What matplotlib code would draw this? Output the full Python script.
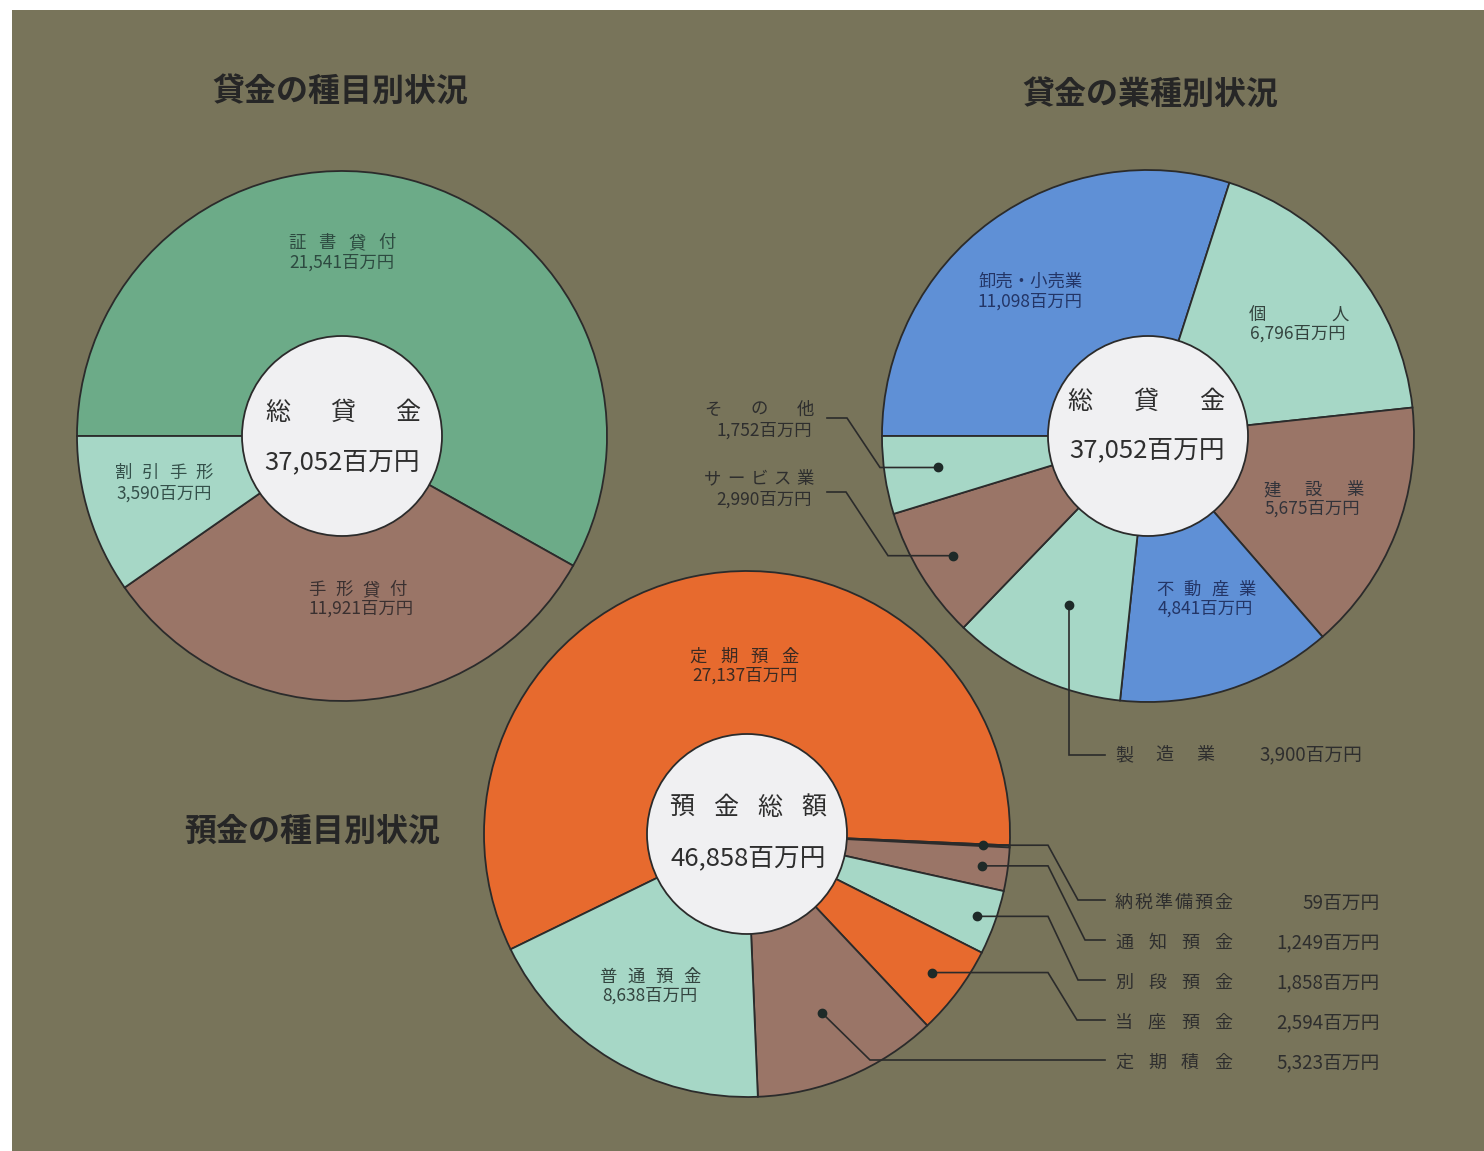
import matplotlib
matplotlib.use('Agg')
import matplotlib.pyplot as plt
import numpy as np
from matplotlib.patches import Circle, Rectangle

plt.rcParams['font.family'] = ['Noto Sans CJK JP', 'DejaVu Sans']

W, H = 1484, 1151

# ---------------- data ----------------
loan_type_labels = ['証書貸付', '手形貸付', '割引手形']
loan_type_values = [21541, 11921, 3590]

loan_ind_labels = ['卸売・小売業', '個人', '建設業', '不動産業', '製造業', 'サービス業', 'その他']
loan_ind_values = [11098, 6796, 5675, 4841, 3900, 2990, 1752]

dep_labels = ['定期預金', '納税準備預金', '通知預金', '別段預金', '当座預金', '定期積金', '普通預金']
dep_values = [27137, 59, 1249, 1858, 2594, 5323, 8638]

loan_total = 37052
dep_total = 46858

titles = ['貸金の種目別状況', '貸金の業種別状況', '預金の種目別状況']

# ---------------- style ----------------
BG = '#78745a'
GREEN = '#6cab88'
AQUA = '#a6d7c6'
BROWN = '#9a7567'
BLUE = '#5f90d6'
ORANGE = '#e76a2e'
CENTER = '#f0f0f2'
EDGE = '#2b2b2b'
TXT = '#2e2e2e'

def fmt(v):
    return f"{v:,}百万円"

def py(y):
    return H - y

fig = plt.figure(figsize=(W / 100, H / 100), dpi=100)
fig.patch.set_facecolor('white')
ax = fig.add_axes([0, 0, 1, 1])
ax.set_axis_off()

ax.add_patch(Rectangle((12, 0), W - 12, H - 10, facecolor=BG, edgecolor='none', zorder=0))

def draw_pie(values, colors, center_px, R, start):
    c = (center_px[0], py(center_px[1]))
    wedges, _ = ax.pie(values, colors=colors, startangle=start, counterclock=False,
                       center=c, radius=R, frame=True,
                       wedgeprops=dict(edgecolor=EDGE, linewidth=1.3))
    for w in wedges:
        w.set_zorder(2)
    ax.add_patch(Circle(c, 100, facecolor=CENTER, edgecolor=EDGE, linewidth=1.3, zorder=5))
    return wedges, c

def dot_pos(wedge, c, R, frac):
    mid = np.deg2rad((wedge.theta1 + wedge.theta2) / 2)
    return c[0] + frac * R * np.cos(mid), c[1] + frac * R * np.sin(mid)

def spaced(s, x0, x1, y, size, color=TXT, **kw):
    n = len(s)
    xs = [x0] if n == 1 else np.linspace(x0, x1, n)
    for ch, x in zip(s, xs):
        ax.text(x, py(y), ch, ha='center', va='center', fontsize=size, color=color, zorder=8, **kw)

def txt(s, x, y, size, color=TXT, ha='center', **kw):
    ax.text(x, py(y), s, ha=ha, va='center', fontsize=size, color=color, zorder=8, **kw)

def leader(points_px, start):
    xs = [start[0]] + [p[0] for p in points_px]
    ys = [start[1]] + [py(p[1]) for p in points_px]
    ax.plot(xs, ys, color=EDGE, lw=1.2, zorder=6, solid_joinstyle='miter')
    ax.plot(start[0], start[1], 'o', color='#1e2a28', ms=6, zorder=7)

LBL = 12.5

def title(s, x, y):
    txt(s, x, y, 23, color='#262626', fontweight='bold')

# ---------------- pie 1: loans by type ----------------
w1, c1 = draw_pie(loan_type_values, [GREEN, BROWN, AQUA], (342, 436), 265, 180)
title(titles[0], 340, 92)
spaced(loan_type_labels[0], 297, 387, 243, LBL, color='#2d4a40')
txt(fmt(loan_type_values[0]), 342, 263, LBL, color='#2d4a40')
spaced(loan_type_labels[2], 124, 204, 473, LBL, color='#34504a')
txt(fmt(loan_type_values[2]), 164, 494, LBL, color='#34504a')
spaced(loan_type_labels[1], 317, 398, 590, LBL, color='#3a3030')
txt(fmt(loan_type_values[1]), 361, 609, LBL, color='#3a3030')
spaced('総貸金', 278, 408, 413, 18)
txt(fmt(loan_total), 342, 462, 18.5)

# ---------------- pie 2: loans by industry ----------------
w2, c2 = draw_pie(loan_ind_values, [BLUE, AQUA, BROWN, BLUE, AQUA, BROWN, AQUA], (1148, 436), 266, 180)
title(titles[1], 1150, 95)
txt(loan_ind_labels[0], 1031, 282, LBL, color='#233566')
txt(fmt(loan_ind_values[0]), 1030, 302, LBL, color='#233566')
spaced(loan_ind_labels[1], 1257, 1340, 315, LBL, color='#34443f')
txt(fmt(loan_ind_values[1]), 1298, 334, LBL, color='#34443f')
spaced(loan_ind_labels[2], 1272, 1355, 490, LBL, color='#32333a')
txt(fmt(loan_ind_values[2]), 1312, 509, LBL, color='#32333a')
spaced(loan_ind_labels[3], 1165, 1247, 590, LBL, color='#233566')
txt(fmt(loan_ind_values[3]), 1205, 609, LBL, color='#233566')
spaced('総貸金', 1080, 1212, 402, 18)
txt(fmt(loan_total), 1147, 450, 18.5)

# outside labels
spaced(loan_ind_labels[6], 713, 805, 410, LBL)
txt(fmt(loan_ind_values[6]), 812, 431, LBL, ha='right')
spaced(loan_ind_labels[5], 713, 805, 479, LBL)
txt(fmt(loan_ind_values[5]), 812, 500, LBL, ha='right')
spaced(loan_ind_labels[4], 1124, 1205, 755, 13)
txt(fmt(loan_ind_values[4]), 1362, 755, 13.5, ha='right')

d = dot_pos(w2[6], c2, 266, 0.80)
leader([(880, py(d[1])), (847, 418), (827, 418)], d)
d = dot_pos(w2[5], c2, 266, 0.86)
leader([(888, py(d[1])), (846, 492), (827, 492)], d)
d = dot_pos(w2[4], c2, 266, 0.70)
leader([(d[0], 755), (1105, 755)], d)

# ---------------- pie 3: deposits ----------------
w3, c3 = draw_pie(dep_values, [ORANGE, AQUA, BROWN, AQUA, ORANGE, BROWN, AQUA], (747, 834), 263, 206)
title(titles[2], 312, 832)
spaced(dep_labels[0], 698, 790, 657, LBL, color='#3a2a22')
txt(fmt(dep_values[0]), 745, 676, LBL, color='#3a2a22')
spaced(dep_labels[6], 608, 692, 977, LBL, color='#33443f')
txt(fmt(dep_values[6]), 650, 996, LBL, color='#33443f')
spaced('預金総額', 682, 814, 808, 18)
txt(fmt(dep_total), 748, 858, 18.5)

right_rows = [1, 2, 3, 4, 5]
row_y = [903, 943, 983, 1023, 1063]
fracs = [0.90, 0.90, 0.93, 0.88, 0.74]
elbow2 = [1078, 1085, 1078, 1077, None]
for i, y, f, e2 in zip(right_rows, row_y, fracs, elbow2):
    name = dep_labels[i]
    spaced(name, 1124, 1223, y, 13)
    txt(fmt(dep_values[i]), 1380, y, 13.5, ha='right')
    d = dot_pos(w3[i], c3, 263, f)
    if e2 is not None:
        leader([(1048, py(d[1])), (e2, y - 3), (1105, y - 3)], d)
    else:
        leader([(870, y - 3), (1105, y - 3)], d)

ax.set_xlim(0, W)
ax.set_ylim(0, H)
ax.set_aspect('equal')

fig.savefig('out.png', dpi=100, facecolor='white')
